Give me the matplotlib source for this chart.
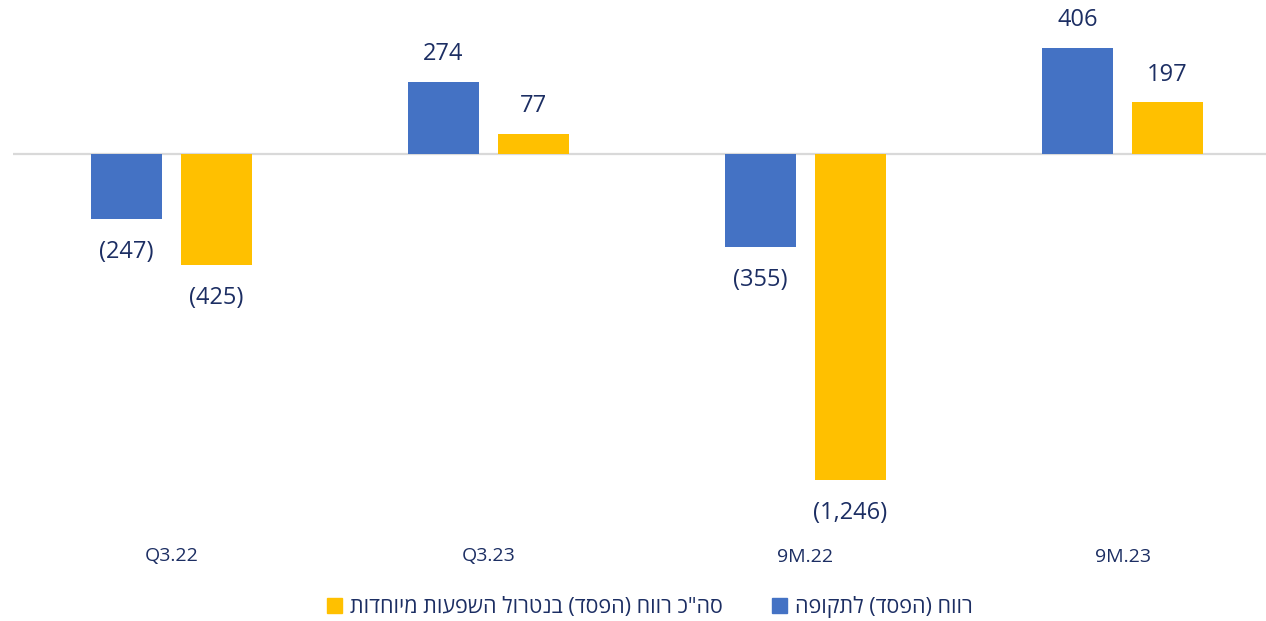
import numpy as np
import matplotlib.pyplot as plt
from matplotlib.patches import Patch

plt.rcParams['font.family'] = ['Open Sans', 'DejaVu Sans']

# data
categories = ['Q3.22', 'Q3.23', '9M.22', '9M.23']
profit_period = [-247, 274, -355, 406]
profit_adjusted = [-425, 77, -1246, 197]
series_names = ['רווח (הפסד) לתקופה', 'סה"כ רווח (הפסד) בנטרול השפעות מיוחדות']

blue = '#4472C4'
yellow = '#FFC000'
navy = '#1C2E63'


def rtl(s):
    # matplotlib has no bidi support, so lay the Hebrew out visually
    return s[::-1].translate(str.maketrans('()', ')('))


def fmt(v):
    return f'({abs(v):,})' if v < 0 else f'{v:,}'


W, H = 1266, 621
fig = plt.figure(figsize=(W / 100, H / 100), dpi=100)
ax = fig.add_axes([13 / W, (H - 535) / H, 1268 / W, 535 / H])

x = np.arange(len(categories))
width = 0.224
off = 0.142
b1 = ax.bar(x - off, profit_period, width, color=blue)
b2 = ax.bar(x + off, profit_adjusted, width, color=yellow)

for bars, vals in [(b1, profit_period), (b2, profit_adjusted)]:
    for rect, v in zip(bars, vals):
        dy = 20 if v >= 0 else -24
        ax.annotate(fmt(v), (rect.get_x() + rect.get_width() / 2, v),
                    xytext=(0, dy), textcoords='offset points',
                    ha='center', va='center', fontsize=17, color=navy)

ax.axhline(0, color='#D9D9D9', lw=1.6, zorder=0)
ax.set_xlim(-0.5, len(categories) - 0.5)
ax.set_ylim(-1456, 588)
ax.set_xticks(x)
ax.set_xticklabels(categories, fontsize=14, color=navy)
ax.tick_params(axis='x', length=0, pad=9)
ax.set_yticks([])
for s in ax.spines.values():
    s.set_visible(False)

handles = [Patch(color=yellow), Patch(color=blue)]
labels = [rtl(series_names[1]), rtl(series_names[0])]
fig.legend(handles, labels, loc='center', bbox_to_anchor=(650 / W, 1 - 607 / H),
           ncol=2, frameon=False, markerfirst=True, fontsize=15.5,
           handlelength=0.7, handleheight=0.7, handletextpad=0.35,
           columnspacing=2.3, labelcolor=navy)

fig.savefig('out.png', dpi=100)
